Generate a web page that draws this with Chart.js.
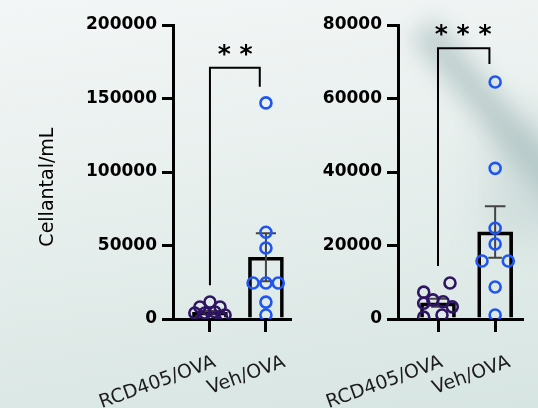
<!DOCTYPE html>
<html>
<head>
<meta charset="utf-8">
<script src="https://cdn.jsdelivr.net/npm/chart.js@4.4.1/dist/chart.umd.min.js"></script>
<style>
  html, body { margin: 0; padding: 0; }
  body {
    width: 538px; height: 408px; overflow: hidden; position: relative;
    background: linear-gradient(172deg, #f3f6f6 0%, #e7efed 45%, #d7e5e2 100%);
  }
  .streak {
    position: absolute; left: 380px; top: 105px; width: 240px; height: 30px;
    background: rgba(140, 168, 168, 0.5);
    transform: rotate(50deg); filter: blur(12px);
  }
  .shade {
    position: absolute; left: 490px; top: 120px; width: 80px; height: 120px;
    background: rgba(170, 192, 192, 0.35); filter: blur(20px);
  }
  canvas { position: absolute; top: 0; }
  #left { left: 0; }
  #right { left: 300px; }
</style>
</head>
<body>
<div class="streak"></div>
<div class="shade"></div>
<canvas id="left" width="300" height="408"></canvas>
<canvas id="right" width="238" height="408"></canvas>
<script>
const categories = ['RCD405/OVA', 'Veh/OVA'];

// left panel
const meansA = [4500, 42000];
const semA = [1000, 16300];
const rcdA = [11600, 8200, 8200, 4100, 4100, 4800, 2700, 700, 700, 700];
const rcdJitterA = [0, -0.18, 0.18, -0.27, -0.09, 0.09, 0.27, -0.14, 0.04, 0.21];
const vehA = [147000, 59000, 48300, 24500, 24500, 24500, 11500, 2700];
const vehJitterA = [0, 0, 0, -0.23, 0, 0.22, 0, 0];
const yTicksA = [0, 50000, 100000, 150000, 200000];
const bracketA = [23000, 171000, 158000];
const starsA = '* *';

// right panel
const meansB = [4400, 23700];
const semB = [1100, 7000];
const rcdB = [7300, 9800, 4300, 5200, 4700, 3300, 500, 1100];
const rcdJitterB = [-0.25, 0.21, -0.25, -0.09, 0.09, 0.25, -0.25, 0.07];
const vehB = [64500, 41000, 24700, 20400, 15800, 15800, 8700, 1100];
const vehJitterB = [0, 0, 0, 0, -0.23, 0.23, 0, 0];
const yTicksB = [0, 20000, 40000, 60000, 80000];
const bracketB = [14400, 73700, 69400];
const starsB = '* * *';

Chart.defaults.font.family = 'DejaVu Sans';

const starsPlugin = {
  id: 'stars',
  afterDatasetsDraw(chart, args, opts) {
    const { ctx, scales: { x, y } } = chart;
    ctx.save();
    ctx.font = 'bold 25px "DejaVu Sans"';
    ctx.fillStyle = '#000';
    ctx.textAlign = 'center';
    ctx.textBaseline = 'alphabetic';
    ctx.fillText(opts.text, x.getPixelForValue(opts.x), y.getPixelForValue(opts.y));
    ctx.restore();
  }
};

function buildPanel(id, p) {
  const errData = [];
  p.means.forEach((m, i) => {
    const x = i + 1, hi = m + p.sem[i], lo = m - p.sem[i];
    errData.push(
      { x: x - 0.18, y: hi }, { x: x + 0.18, y: hi }, { x: x, y: null },
      { x: x, y: hi }, { x: x, y: lo }, { x: x, y: null },
      { x: x - 0.12, y: lo }, { x: x + 0.12, y: lo }, { x: x, y: null }
    );
  });

  const b = p.bracket;
  const bracketData = [
    { x: 1, y: b[0] }, { x: 1, y: b[1] },
    { x: p.bracketEnd, y: b[1] }, { x: p.bracketEnd, y: b[2] }
  ];

  const yScale = {
    min: 0,
    max: p.yTicks[p.yTicks.length - 1],
    afterBuildTicks: s => { s.ticks = p.yTicks.map(v => ({ value: v })); },
    ticks: {
      callback: v => String(v),
      font: { family: 'DejaVu Sans', weight: 'bold', size: 17 },
      color: '#000',
      padding: 5
    },
    grid: { drawOnChartArea: false, tickLength: 11, lineWidth: 3, color: '#000' },
    border: { width: 3, color: '#000' },
    afterFit: s => { s.width = p.yWidth; }
  };
  if (p.title) {
    yScale.title = {
      display: true,
      text: p.title + '     ',
      font: { family: 'DejaVu Sans', size: 19 },
      color: '#000',
      padding: { top: 37, bottom: 0 }
    };
  }

  new Chart(document.getElementById(id), {
    type: 'bar',
    data: {
      datasets: [
        {
          type: 'scatter',
          data: p.veh.map((v, i) => ({ x: 2 + p.vehJitter[i], y: v })),
          borderColor: '#1f55f0',
          backgroundColor: 'rgba(0,0,0,0)',
          pointRadius: 5.5,
          pointBorderWidth: 2.6,
          order: 0
        },
        {
          type: 'scatter',
          data: p.rcd.map((v, i) => ({ x: 1 + p.rcdJitter[i], y: v })),
          borderColor: '#2e1463',
          backgroundColor: 'rgba(0,0,0,0)',
          pointRadius: 5.5,
          pointBorderWidth: 2.6,
          order: 0
        },
        {
          type: 'line',
          data: errData,
          borderColor: '#444',
          borderWidth: 2,
          pointRadius: 0,
          fill: false,
          order: 1
        },
        {
          type: 'line',
          data: bracketData,
          borderColor: '#000',
          borderWidth: 2,
          pointRadius: 0,
          fill: false,
          order: 1
        },
        {
          type: 'bar',
          data: p.means.map((m, i) => ({ x: i + 1, y: m })),
          backgroundColor: 'rgba(0,0,0,0)',
          borderColor: '#000',
          borderWidth: 3,
          borderSkipped: 'bottom',
          barThickness: 35,
          order: 2
        }
      ]
    },
    options: {
      responsive: false,
      animation: false,
      layout: { padding: { top: 25, right: p.padRight, left: 0, bottom: 0 } },
      plugins: {
        legend: { display: false },
        tooltip: { enabled: false },
        stars: { text: p.stars, x: p.starX, y: p.starY }
      },
      scales: {
        x: {
          type: 'linear',
          offset: false,
          min: p.xMin,
          max: p.xMax,
          afterBuildTicks: s => { s.ticks = categories.map((c, i) => ({ value: i + 1 })); },
          ticks: { display: false },
          grid: { offset: false, drawOnChartArea: false, tickLength: 13, lineWidth: 3, color: '#000' },
          border: { width: 3, color: '#000' },
          afterFit: s => { s.height = 20; }
        },
        xl: {
          type: 'linear',
          position: 'bottom',
          offset: false,
          min: p.xMin,
          max: p.xMax,
          afterBuildTicks: s => { s.ticks = p.labelPos.map(v => ({ value: v })); },
          ticks: {
            callback: (v, i) => categories[i],
            minRotation: 20,
            maxRotation: 20,
            autoSkip: false,
            padding: 4,
            font: { family: 'DejaVu Sans', size: 19 },
            color: '#1c1c1c'
          },
          grid: { display: false, offset: false },
          border: { display: false },
          afterFit: s => { s.height = 69; s.paddingLeft = 0; s.paddingRight = 0; }
        },
        y: yScale
      }
    },
    plugins: [starsPlugin]
  });
}

buildPanel('left', {
  means: meansA, sem: semA, rcd: rcdA, rcdJitter: rcdJitterA,
  veh: vehA, vehJitter: vehJitterA, yTicks: yTicksA,
  bracket: bracketA, bracketEnd: 1.89, stars: starsA, starX: 1.45, starY: 175000,
  xMin: 0.34, xMax: 2.43, labelPos: [1.09, 2.33],
  yWidth: 173, padRight: 10, title: 'Cellantal/mL'
});

buildPanel('right', {
  means: meansB, sem: semB, rcd: rcdB, rcdJitter: rcdJitterB,
  veh: vehB, vehJitter: vehJitterB, yTicks: yTicksB,
  bracket: bracketB, bracketEnd: 1.9, stars: starsB, starX: 1.44, starY: 75500,
  xMin: 0.30, xMax: 2.47, labelPos: [1.07, 2.25],
  yWidth: 98, padRight: 16, title: null
});
</script>
</body>
</html>
